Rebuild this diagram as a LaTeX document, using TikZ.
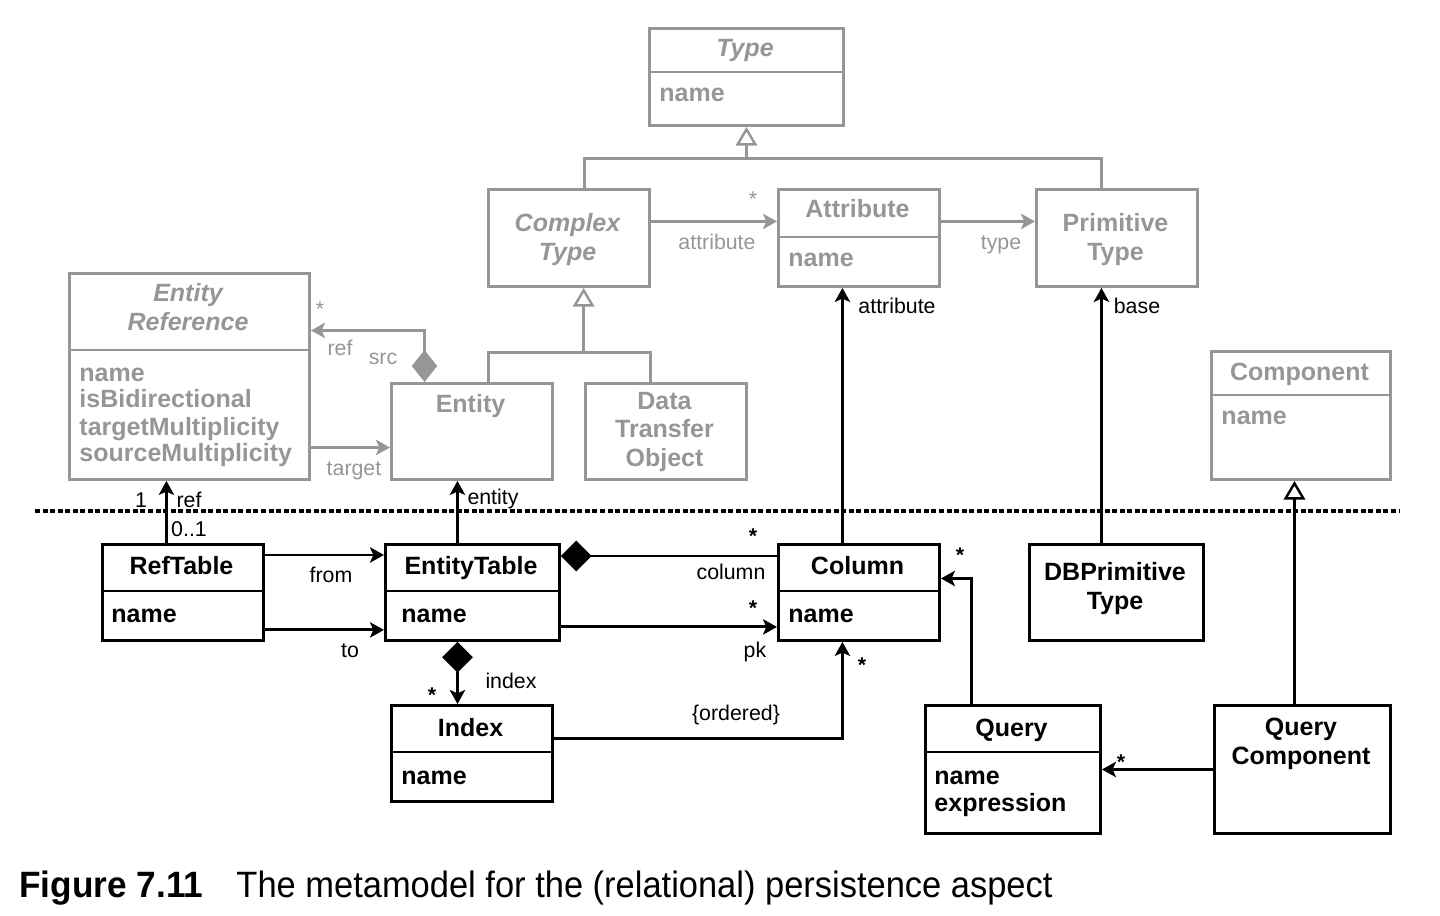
\documentclass[tikz,border=0pt]{standalone}
\usepackage{fontspec}
\setmainfont{Liberation Sans}
\newfontfamily\capfont[FakeStretch=0.96]{Liberation Sans}
\newfontfamily\captextfont[FakeStretch=0.94]{Liberation Sans}
\usetikzlibrary{arrows.meta,calc}

\definecolor{metagray}{RGB}{150,150,150}

\tikzset{every picture/.style={line width=2.2pt}}
\tikzset{
  cls/.style 2 args={draw=black, anchor=north west, inner sep=0pt, minimum width=#1*0.75pt, minimum height=#2*0.75pt},
  gcls/.style 2 args={cls={#1}{#2}, draw=metagray},
  clsname/.style={font=\fontsize{18.75}{21.75}\bfseries\selectfont, inner sep=0pt, anchor=base, align=center},
  absname/.style={clsname, font=\fontsize{18.75}{21.75}\bfseries\itshape\selectfont, text=metagray},
  attrtext/.style={font=\fontsize{18.75}{20.25}\bfseries\selectfont, inner sep=0pt, anchor=base west, align=left},
  role/.style={font=\fontsize{16}{19}\selectfont, inner sep=0pt, anchor=base},
  mult/.style={role, font=\fontsize{16}{19}\bfseries\selectfont},
  assoc/.style={draw=black, -{Stealth[length=10.5pt,width=11.5pt,inset=2.5pt]}},
  gassoc/.style={assoc, draw=metagray},
  gen/.style={draw=black, -{Triangle[open,length=14pt,width=16pt,line width=1.8pt,fill=white]}},
  ggen/.style={gen, draw=metagray},
  comp/.style={draw=black, {Diamond[length=23pt,width=23pt]}-},
  compassoc/.style={draw=black, {Diamond[length=23pt,width=23pt]}-{Stealth[length=10.5pt,width=11.5pt,inset=2.5pt]}},
  gcomp/.style={draw=metagray, {Diamond[length=24pt,width=19pt]}-{Stealth[length=10.5pt,width=11.5pt,inset=2.5pt]}},
  sepline/.style={draw=black, line width=2.4pt, dash pattern={on 3.75pt off 1.9pt}}
}

\begin{document}
\begin{tikzpicture}[x=0.75pt,y=0.75pt,yscale=-1,xscale=1]
\path[use as bounding box] (0,0) rectangle (1440,916);

%Separator [generic / relational]
\draw[sepline] (35,511) -- (1400,511);

%Class: Type
\node[gcls={194}{97}] (type) at (648,27) {};
\draw[metagray] ($(type.north west)+(0,45)$) -- ($(type.north east)+(0,45)$);
\node[absname] (typetitle) at (745,57) {Type};
\node[attrtext, text=metagray] (typeattr) at (658,102) {name};
%Class: Complex Type
\node[gcls={161}{97}] (complextype) at (487,188) {};
\node[absname] (complextitle) at (567.5,261) {Complex\\Type};
%Class: Attribute
\node[gcls={161}{97}] (attribute) at (777,188) {};
\draw[metagray] ($(attribute.north west)+(0,49)$) -- ($(attribute.north east)+(0,49)$);
\node[clsname, text=metagray] (attributetitle) at (857.5,218) {Attribute};
\node[attrtext, text=metagray] (attributeattr) at (787,267) {name};
%Class: Primitive Type
\node[gcls={161}{97}] (primtype) at (1035,188) {};
\node[clsname, text=metagray] (primtitle) at (1115.5,261) {Primitive\\Type};
%Class: Entity Reference
\node[gcls={240}{206}] (entref) at (68,272) {};
\draw[metagray] ($(entref.north west)+(0,78)$) -- ($(entref.north east)+(0,78)$);
\node[absname] (entreftitle) at (188,331) {Entity\\Reference};
\node[attrtext, text=metagray] (entrefattr) at (78,462) {name\\isBidirectional\\targetMultiplicity\\sourceMultiplicity};
%Class: Entity
\node[gcls={161}{96}] (entity) at (390,382) {};
\node[clsname, text=metagray] (entitytitle) at (470.5,412) {Entity};
%Class: Data Transfer Object
\node[gcls={161}{96}] (dto) at (584,382) {};
\node[clsname, text=metagray] (dtotitle) at (664.5,467) {Data\\Transfer\\Object};
%Class: Component
\node[gcls={179}{128}] (component) at (1210,350) {};
\draw[metagray] ($(component.north west)+(0,45)$) -- ($(component.north east)+(0,45)$);
\node[clsname, text=metagray] (componenttitle) at (1299.5,381) {Component};
\node[attrtext, text=metagray] (componentattr) at (1220,425) {name};

%Class: RefTable
\node[cls={161}{96}] (reftable) at (101,543) {};
\draw ($(reftable.north west)+(0,48)$) -- ($(reftable.north east)+(0,48)$);
\node[clsname] (reftabletitle) at (181.5,574) {RefTable};
\node[attrtext] (reftableattr) at (110,622) {name};
%Class: EntityTable
\node[cls={174}{96}] (entitytable) at (384,543) {};
\draw ($(entitytable.north west)+(0,48)$) -- ($(entitytable.north east)+(0,48)$);
\node[clsname] (entitytabletitle) at (471,574) {EntityTable};
\node[attrtext] (entitytableattr) at (400,622) {name};
%Class: Column
\node[cls={161}{96}] (column) at (777,543) {};
\draw ($(column.north west)+(0,48)$) -- ($(column.north east)+(0,48)$);
\node[clsname] (columntitle) at (857.5,574) {Column};
\node[attrtext] (columnattr) at (787,622) {name};
%Class: DBPrimitive Type
\node[cls={174}{96}] (dbprimtype) at (1028,543) {};
\node[clsname] (dbprimtitle) at (1115,609) {DBPrimitive\\Type};
%Class: Index
\node[cls={161}{96}] (index) at (390,704) {};
\draw ($(index.north west)+(0,48)$) -- ($(index.north east)+(0,48)$);
\node[clsname] (indextitle) at (470.5,736) {Index};
\node[attrtext] (indexattr) at (400,784) {name};
%Class: Query
\node[cls={175}{128}] (query) at (924,704) {};
\draw ($(query.north west)+(0,48)$) -- ($(query.north east)+(0,48)$);
\node[clsname] (querytitle) at (1011.5,736) {Query};
\node[attrtext] (queryattr) at (933,811) {name\\expression};
%Class: Query Component
\node[cls={176}{128}] (qcomp) at (1213,704) {};
\node[clsname] (qcomptitle) at (1301,764) {Query\\Component};

%Generalization to Type
\coordinate (typejoin) at ([yshift=24pt]type.south);
\draw[metagray] ([xshift=11.6pt]complextype.north) |- (typejoin) -| ([xshift=-11.6pt]primtype.north);
\draw[ggen] (typejoin) -- (type.south);
%Generalization to Complex Type
\coordinate (ctjoin) at ([xshift=11pt,yshift=48.75pt]complextype.south);
\draw[metagray] ([xshift=12.4pt]entity.north) |- (ctjoin) -| ([xshift=-11.6pt]dto.north);
\draw[ggen] (ctjoin) -- ([xshift=11pt]complextype.south);
%Complex Type -> Attribute -> Primitive Type
\draw[gassoc] ([yshift=-12.4pt]complextype.east) -- ([yshift=-12.4pt]attribute.west);
\draw[gassoc] ([yshift=-12.4pt]attribute.east) -- ([yshift=-12.4pt]primtype.west);
%Entity <>-> Entity Reference
\draw[gcomp] ([xshift=-35.6pt]entity.north) |- ([yshift=-34.5pt]entref.east);
%Entity Reference -> Entity
\coordinate (enttarget) at ([yshift=12pt]entity.west);
\draw[gassoc] (entref.east |- enttarget) -- (enttarget);

%Relational to generic
\coordinate (reftop) at ([xshift=-12.4pt]reftable.north);
\draw[assoc] (reftop) -- (reftop |- entref.south);
\coordinate (ettop) at ([xshift=-11.25pt]entitytable.north);
\draw[assoc] (ettop) -- (ettop |- entity.south);
\draw[assoc] ([xshift=-12.4pt]column.north) -- ([xshift=-12.4pt]attribute.south);
\coordinate (dbtop) at ([xshift=-11.25pt]dbprimtype.north);
\draw[assoc] (dbtop) -- (dbtop |- primtype.south);
\coordinate (qctop) at ([xshift=-6pt]qcomp.north);
\draw[gen] (qctop) -- (qctop |- component.south);
%Relational associations
\draw[assoc] ([yshift=9pt]reftable.north east) -- ([yshift=9pt]entitytable.north west);
\draw[assoc] ([yshift=-9pt]reftable.south east) -- ([yshift=-9pt]entitytable.south west);
\draw[comp] ([yshift=9.75pt]entitytable.north east) -- ([yshift=9.75pt]column.north west);
\draw[assoc] ([yshift=-11.25pt]entitytable.south east) -- ([yshift=-11.25pt]column.south west);
\draw[compassoc] (ettop |- entitytable.south) -- (ettop |- index.north);
\draw[assoc] ([yshift=-11.25pt]index.east) -| ([xshift=-12.4pt]column.south);
\draw[assoc] ([xshift=-31.1pt]query.north) |- ([yshift=-10.5pt]column.east);
\draw[assoc] (qcomp.west) -- (query.east);

%Role labels (gray)
\node[role, text=metagray] (lblstar1) at (753,207) {*};
\node[role, text=metagray] (lblattr1) at (717,250) {attribute};
\node[role, text=metagray] (lbltype) at (1001,250) {type};
\node[role, text=metagray] (lblstar2) at (320,317) {*};
\node[role, text=metagray] (lblref1) at (340,356) {ref};
\node[role, text=metagray] (lblsrc) at (383,365) {src};
\node[role, text=metagray] (lbltarget) at (354,475) {target};
%Role labels (black)
\node[role] (lblattr2) at (897,314) {attribute};
\node[role] (lblbase) at (1137,314) {base};
\node[role] (lblone) at (141,508) {1};
\node[role] (lblref2) at (189,508) {ref};
\node[role] (lblzeroone) at (189,537) {0..1};
\node[role] (lblentity) at (493,504) {entity};
\node[role] (lblfrom) at (331,582) {from};
\node[role] (lblto) at (350,657) {to};
\node[role] (lblcolumn) at (731,579) {column};
\node[role] (lblpk) at (755,657) {pk};
\node[role] (lblindex) at (511,688) {index};
\node[role] (lblordered) at (736,720) {\{ordered\}};
\node[mult] (lblstar3) at (753,543) {*};
\node[mult] (lblstar4) at (753,615) {*};
\node[mult] (lblstar5) at (432,702) {*};
\node[mult] (lblstar6) at (862,672) {*};
\node[mult] (lblstar7) at (960,562) {*};
\node[mult] (lblstar8) at (1121,769) {*};

%Caption
\node[font=\capfont\fontsize{27.5}{31}\bfseries\selectfont, inner sep=0pt, anchor=base west] (capnum) at (18,897) {Figure 7.11};
\node[font=\captextfont\fontsize{27.5}{31}\selectfont, inner sep=0pt, anchor=base west] (captext) at (235,897) {The metamodel for the (relational) persistence aspect};

\end{tikzpicture}
\end{document}
